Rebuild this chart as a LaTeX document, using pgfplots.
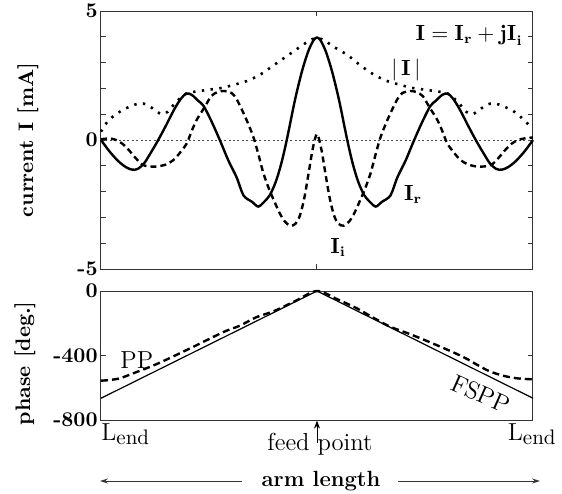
\documentclass[border=0pt]{standalone}
\usepackage{pgfplots}
\pgfplotsset{compat=1.18}
\usetikzlibrary{arrows.meta}
\newcommand{\labfont}{\fontsize{10.5}{12.6}\selectfont\bfseries}
\newcommand{\txtfont}{\fontsize{12.3}{14}\selectfont}
\newcommand{\Lend}{L\raisebox{-0.4ex}{\fontsize{10.5}{12}\selectfont end}}
\pgfplotsset{
  every axis/.append style={
    scale only axis, clip=false,
    /pgf/number format/assume math mode=true,
    tick label style={font=\labfont},
    label style={font=\labfont},
    axis line style={draw=black!80, line width=0.5pt},
    tick style={draw=black!80, line width=0.5pt},
    tick align=inside,
    major tick length=2.5pt, minor tick length=2.5pt,
    yticklabel style={inner sep=1.5pt},
  },
}
\begin{document}
\begin{tikzpicture}
\path[use as bounding box] (0pt,0pt) rectangle (281pt,-246.5pt);
\begin{axis}[at={(50.5pt,-5.5pt)}, anchor=north west,
  width=216pt, height=129pt,
  xmin=-1, xmax=1, ymin=-5, ymax=5,
  xtick={0}, xticklabels={},
  ytick={-5,0,5}, minor ytick={-4,-3,-2,-1,1,2,3,4},
  ylabel={current I [mA]},
  ylabel style={at={(axis description cs:-0.169,0.5)}, anchor=center},
]
\addplot[black!70, line width=0.4pt, dash pattern=on 1pt off 1.2pt] coordinates {(-1,0) (1,0)};
\addplot[black, line width=1.2pt, smooth] coordinates {
(-1,0) (-0.96,-0.45) (-0.92,-0.82) (-0.885,-1.05) (-0.856,-1.15) (-0.83,-1.12) (-0.8,-0.9) (-0.77,-0.5) (-0.735,0) (-0.7,0.55) (-0.66,1.2) (-0.63,1.6) (-0.605,1.80) (-0.58,1.75) (-0.55,1.52) (-0.525,1.32) (-0.49,0.75) (-0.45,0) (-0.41,-0.8) (-0.372,-1.45) (-0.34,-2.15) (-0.3,-2.4) (-0.272,-2.58) (-0.245,-2.4) (-0.218,-2.13) (-0.19,-1.6) (-0.165,-0.9) (-0.14,0) (-0.102,1.55) (-0.07,2.65) (-0.04,3.45) (-0.015,3.88) (0,3.97)
(0.015,3.88) (0.04,3.45) (0.07,2.65) (0.102,1.55) (0.14,0) (0.165,-0.9) (0.19,-1.6) (0.218,-2.13) (0.245,-2.4) (0.272,-2.58) (0.3,-2.4) (0.34,-2.15) (0.372,-1.45) (0.41,-0.8) (0.45,0) (0.49,0.75) (0.525,1.32) (0.55,1.52) (0.58,1.75) (0.605,1.80) (0.63,1.6) (0.66,1.2) (0.7,0.55) (0.735,0) (0.77,-0.5) (0.8,-0.9) (0.83,-1.12) (0.856,-1.15) (0.885,-1.05) (0.92,-0.82) (0.96,-0.45) (1,0)
};
\addplot[black, line width=1.2pt, dash pattern=on 3pt off 2pt, smooth] coordinates {
(-1,0.03) (-0.96,0.06) (-0.93,0.0) (-0.9,-0.15) (-0.87,-0.4) (-0.845,-0.65) (-0.81,-0.95) (-0.78,-1.02) (-0.742,-1.03) (-0.7,-0.95) (-0.665,-0.78) (-0.635,-0.5) (-0.603,-0.13) (-0.58,0.35) (-0.557,0.78) (-0.519,1.29) (-0.49,1.7) (-0.46,1.86) (-0.43,1.9) (-0.395,1.82) (-0.37,1.55) (-0.33,0.85) (-0.295,0.13) (-0.27,-0.6) (-0.248,-1.29) (-0.222,-1.9) (-0.2,-2.33) (-0.175,-2.8) (-0.15,-3.15) (-0.124,-3.32) (-0.1,-3.25) (-0.08,-2.95) (-0.06,-2.3) (-0.04,-1.35) (-0.02,-0.35) (0,0.23)
(0.02,-0.35) (0.04,-1.35) (0.06,-2.3) (0.08,-2.95) (0.1,-3.25) (0.124,-3.32) (0.15,-3.15) (0.175,-2.8) (0.2,-2.33) (0.222,-1.9) (0.248,-1.29) (0.27,-0.6) (0.295,0.13) (0.33,0.85) (0.37,1.55) (0.395,1.82) (0.43,1.9) (0.46,1.86) (0.49,1.7) (0.519,1.29) (0.557,0.78) (0.58,0.35) (0.603,-0.13) (0.635,-0.5) (0.665,-0.78) (0.7,-0.95) (0.742,-1.03) (0.78,-1.02) (0.81,-0.95) (0.845,-0.65) (0.87,-0.4) (0.9,-0.15) (0.93,0.0) (0.96,0.06) (1,0.1)
};
\addplot[black, line width=1.3pt, dash pattern=on 1.2pt off 3.2pt, smooth] coordinates {
(-1,0.32) (-0.98,0.6) (-0.96,0.8) (-0.93,1.0) (-0.9,1.16) (-0.86,1.32) (-0.82,1.42) (-0.79,1.38) (-0.76,1.22) (-0.72,1.0) (-0.69,1.1) (-0.665,1.35) (-0.63,1.65) (-0.605,1.8) (-0.56,1.88) (-0.5,1.95) (-0.44,2.02) (-0.38,2.15) (-0.32,2.3) (-0.26,2.55) (-0.2,2.9) (-0.14,3.25) (-0.08,3.6) (-0.03,3.88) (0,3.95)
(0.03,3.88) (0.08,3.6) (0.14,3.3) (0.2,2.9) (0.26,2.55) (0.32,2.3) (0.38,2.15) (0.44,2.02) (0.5,1.95) (0.56,1.88) (0.605,1.8) (0.63,1.65) (0.665,1.35) (0.69,1.1) (0.72,1.0) (0.76,1.22) (0.79,1.38) (0.82,1.42) (0.86,1.32) (0.9,1.16) (0.93,1.0) (0.96,0.75) (0.98,0.6) (1,0.5)
};
\end{axis}
\begin{axis}[at={(50.5pt,-145.5pt)}, anchor=north west,
  width=216pt, height=64.5pt,
  xmin=-1, xmax=1, ymin=-800, ymax=0,
  xtick=\empty,
  ytick={-800,-400,0},
  ylabel={phase [deg.]},
  ylabel style={at={(axis description cs:-0.176,0.44)}, anchor=center},
]
\addplot[black, line width=0.6pt] coordinates {(-1,-665) (0,0) (1,-665)};
\addplot[black, line width=1.2pt, dash pattern=on 3.5pt off 2pt, smooth] coordinates {
(-1,-556) (-0.96,-552) (-0.912,-541) (-0.85,-510) (-0.742,-453) (-0.588,-356) (-0.434,-255) (-0.357,-215) (-0.28,-162) (-0.2,-125) (-0.1,-62) (0,0)
(0.1,-55) (0.184,-107) (0.26,-165) (0.338,-221) (0.42,-262) (0.5,-305) (0.6,-362) (0.65,-392) (0.7,-425) (0.73,-449) (0.786,-490) (0.824,-510) (0.87,-528) (0.93,-542) (1,-548)
};
\end{axis}
% text labels (absolute positions, 1px = 0.5pt)
\node[font=\labfont, anchor=base east, inner sep=0pt] at (261.5pt,-20pt) {$\mathbf{I} = \mathbf{I}_{\mathbf{r}} + \mathbf{jI}_{\mathbf{i}}$};
\node[font=\labfont, anchor=base west, inner sep=0pt] at (195.5pt,-37.5pt) {$\vert\,\mathbf{I}\,\vert$};
\node[font=\labfont, anchor=base west, inner sep=0pt] at (201.8pt,-100pt) {$\mathbf{I}_{\mathbf{r}}$};
\node[font=\labfont, anchor=base west, inner sep=0pt] at (165pt,-126.5pt) {$\mathbf{I}_{\mathbf{i}}$};
\node[font=\txtfont, anchor=base west, inner sep=0pt] at (60pt,-184pt) {PP};
\node[font=\txtfont, rotate=-24, anchor=center, inner sep=0pt] at (240.5pt,-197pt) {FSPP};
\node[font=\txtfont, anchor=base west, inner sep=0pt] at (50.5pt,-220pt) {\Lend};
\node[font=\txtfont, anchor=base east, inner sep=0pt] at (278pt,-220pt) {\Lend};
\node[font=\txtfont, anchor=base, inner sep=0pt] at (160pt,-225pt) {feed point};
\draw[black, line width=0.5pt, -{Stealth[length=4pt,width=3pt]}] (158.5pt,-221.5pt) -- (158.5pt,-210.3pt);
\node[font=\labfont\fontsize{11}{13}\selectfont, anchor=base, inner sep=0pt] at (160.5pt,-243pt) {arm length};
\draw[black!80, line width=0.5pt, -{Stealth[length=4pt,width=2.5pt]}] (121pt,-240.5pt) -- (50pt,-240.5pt);
\draw[black!80, line width=0.5pt, -{Stealth[length=4pt,width=2.5pt]}] (199pt,-240.5pt) -- (270pt,-240.5pt);
\end{tikzpicture}
\end{document}
